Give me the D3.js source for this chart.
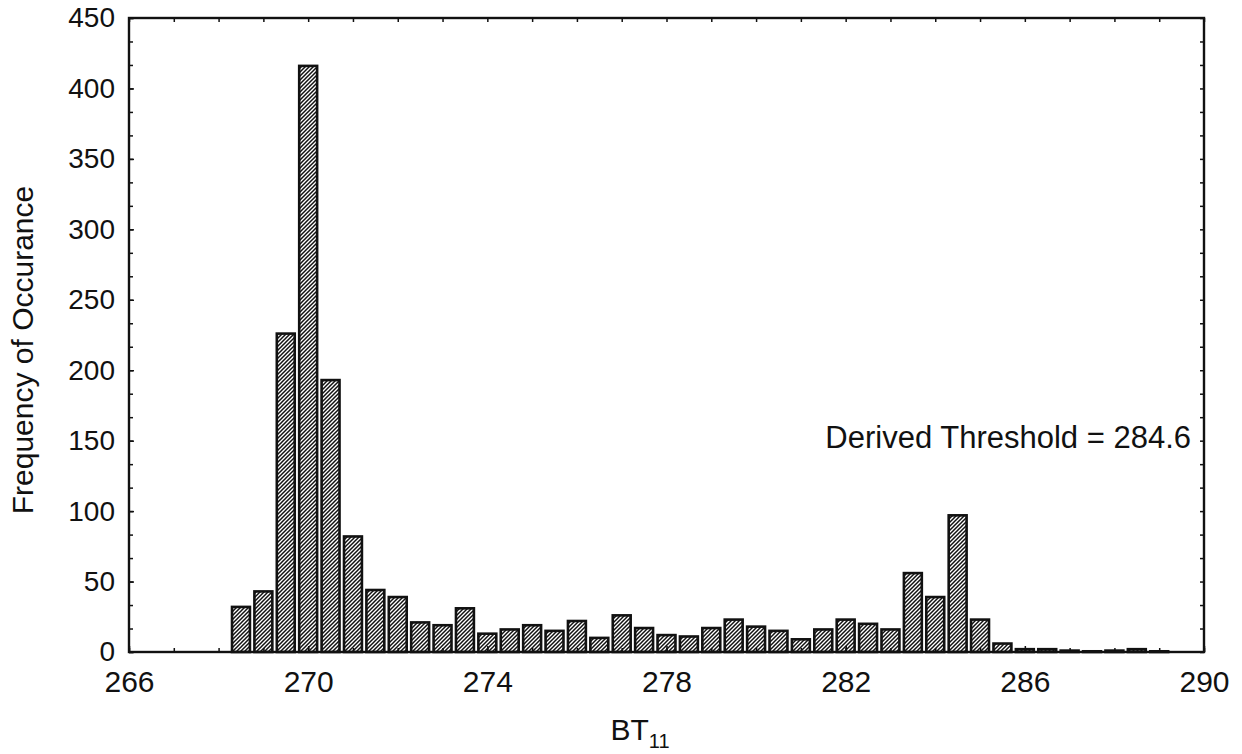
<!DOCTYPE html>
<html>
<head>
<meta charset="utf-8">
<script src="https://cdn.jsdelivr.net/npm/d3@7"></script>
<style>
  html, body { margin: 0; padding: 0; background: #ffffff; }
  svg { display: block; }
  text { font-family: "Liberation Sans", Arial, sans-serif; fill: #111; }
</style>
</head>
<body>
<svg id="chart" width="1242" height="754"></svg>
<script>
// ---- data ----
const binCenters = [268.5, 269, 269.5, 270, 270.5, 271, 271.5, 272, 272.5, 273, 273.5,
  274, 274.5, 275, 275.5, 276, 276.5, 277, 277.5, 278, 278.5, 279, 279.5, 280,
  280.5, 281, 281.5, 282, 282.5, 283, 283.5, 284, 284.5, 285, 285.5, 286, 286.5,
  287, 287.5, 288, 288.5, 289];
const frequencies = [32, 43, 226, 416, 193, 82, 44, 39, 21, 19, 31,
  13, 16, 19, 15, 22, 10, 26, 17, 12, 11, 17, 23, 18,
  15, 9, 16, 23, 20, 16, 56, 39, 97, 23, 6, 2, 2,
  1, 0.5, 1, 2, 0.5];
const xTickValues = [266, 270, 274, 278, 282, 286, 290];
const xMinorTicks = [266, 267, 268, 269, 270, 271, 272, 273, 274, 275, 276, 277, 278,
  279, 280, 281, 282, 283, 284, 285, 286, 287, 288, 289, 290];
const yTickValues = [0, 50, 100, 150, 200, 250, 300, 350, 400, 450];
const yMinorTicks = [0, 16.67, 33.33, 50, 66.67, 83.33, 100, 116.67, 133.33, 150, 166.67,
  183.33, 200, 216.67, 233.33, 250, 266.67, 283.33, 300, 316.67, 333.33, 350,
  366.67, 383.33, 400, 416.67, 433.33, 450];
const xDomain = [266, 290];
const yDomain = [0, 450];
const binWidth = 0.4;
const annotationText = "Derived Threshold = 284.6";
const yLabel = "Frequency of Occurance";

// ---- layout ----
const plot = { left: 129, top: 18, right: 1204, bottom: 652 };
const svg = d3.select("#chart");

const x = d3.scaleLinear().domain(xDomain).range([plot.left, plot.right]);
const y = d3.scaleLinear().domain(yDomain).range([plot.bottom, plot.top]);

// hatch pattern
const defs = svg.append("defs");
const pat = defs.append("pattern")
  .attr("id", "hatch")
  .attr("patternUnits", "userSpaceOnUse")
  .attr("width", 4).attr("height", 4);
pat.append("rect").attr("width", 4).attr("height", 4).attr("fill", "#fff");
pat.append("path")
  .attr("d", "M-1,1 l2,-2 M0,4 l4,-4 M3,5 l2,-2")
  .attr("stroke", "#111").attr("stroke-width", 1.5);

const data = binCenters.map((c, i) => ({ c, v: frequencies[i] }));

// bars
svg.append("g").selectAll("rect")
  .data(data)
  .join("rect")
  .attr("x", d => x(d.c - binWidth / 2))
  .attr("width", d => x(d.c + binWidth / 2) - x(d.c - binWidth / 2))
  .attr("y", d => y(d.v))
  .attr("height", d => y(0) - y(d.v))
  .attr("fill", "url(#hatch)")
  .attr("stroke", "#111")
  .attr("stroke-width", 2.6);

// axes
const xAxis = d3.axisBottom(x).tickValues(xTickValues).tickSize(-6).tickPadding(19)
  .tickFormat(d3.format("d"));
const gx = svg.append("g").attr("transform", `translate(0,${plot.bottom})`).call(xAxis);
gx.select(".domain").remove();
gx.selectAll("text").style("font-size", "30px").attr("fill", "#111");
gx.selectAll("line").attr("stroke", "#111").attr("stroke-width", 1.5);

const xMinor = d3.axisBottom(x).tickValues(xMinorTicks).tickSize(-4).tickFormat("");
const gxm = svg.append("g").attr("transform", `translate(0,${plot.bottom})`).call(xMinor);
gxm.select(".domain").remove();
gxm.selectAll("line").attr("stroke", "#111").attr("stroke-width", 1.5);

const xTop = d3.axisTop(x).tickValues(xMinorTicks).tickSize(-4).tickFormat("");
const gxt = svg.append("g").attr("transform", `translate(0,${plot.top})`).call(xTop);
gxt.select(".domain").remove();
gxt.selectAll("line").attr("stroke", "#111").attr("stroke-width", 1.5);

const yAxis = d3.axisLeft(y).tickValues(yTickValues).tickSize(-5).tickPadding(14)
  .tickFormat(d3.format("d"));
const gy = svg.append("g").attr("transform", `translate(${plot.left},0)`).call(yAxis);
gy.select(".domain").remove();
gy.selectAll("text").style("font-size", "28px").attr("fill", "#111");
gy.selectAll("line").attr("stroke", "#111").attr("stroke-width", 1.5);

const yMinor = d3.axisLeft(y).tickValues(yMinorTicks).tickSize(-4).tickFormat("");
const gym = svg.append("g").attr("transform", `translate(${plot.left},0)`).call(yMinor);
gym.select(".domain").remove();
gym.selectAll("line").attr("stroke", "#111").attr("stroke-width", 1.5);

const yRight = d3.axisRight(y).tickValues(yMinorTicks).tickSize(-4).tickFormat("");
const gyr = svg.append("g").attr("transform", `translate(${plot.right},0)`).call(yRight);
gyr.select(".domain").remove();
gyr.selectAll("line").attr("stroke", "#111").attr("stroke-width", 1.5);

// frame
svg.append("rect")
  .attr("x", plot.left).attr("y", plot.top)
  .attr("width", plot.right - plot.left).attr("height", plot.bottom - plot.top)
  .attr("fill", "none").attr("stroke", "#111").attr("stroke-width", 2.4);

// y label
svg.append("text")
  .attr("transform", `translate(33,${(plot.top + plot.bottom) / 2 + 15}) rotate(-90)`)
  .attr("text-anchor", "middle")
  .style("font-size", "30px")
  .text(yLabel);

// x label BT11
const xl = svg.append("text")
  .attr("x", 640).attr("y", 740)
  .attr("text-anchor", "middle")
  .style("font-size", "30px");
xl.append("tspan").text("BT");
xl.append("tspan").attr("dy", 8).style("font-size", "20px").text("11");

// annotation
svg.append("text")
  .attr("x", 1191).attr("y", 448)
  .attr("text-anchor", "end")
  .style("font-size", "31px")
  .text(annotationText);
</script>
</body>
</html>
